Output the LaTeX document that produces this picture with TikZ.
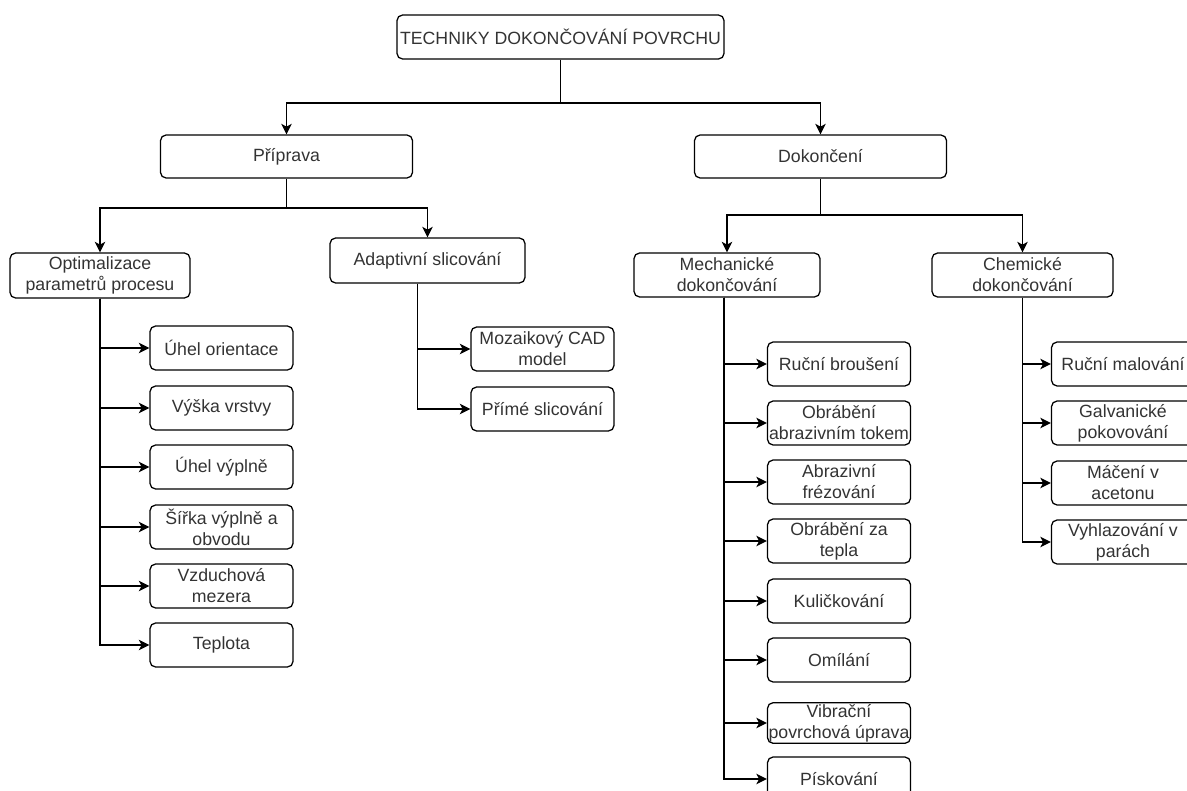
\documentclass[tikz,border=0pt]{standalone}
\usepackage{fontspec}
\setmainfont{Liberation Sans}
\usetikzlibrary{arrows.meta}
\definecolor{txt}{HTML}{333333}
\tikzset{
  box/.style={draw=black, line width=0.9pt, rounded corners=4pt, align=center,
    inner xsep=0pt, inner ysep=1pt, text=txt, font=\fontsize{12.6}{15}\selectfont},
  leaf/.style={box, minimum width=3.575cm, minimum height=1.1cm},
  ln/.style={line width=0.9pt},
  arr/.style={line width=0.9pt, -{Stealth[length=7.5pt, width=7.5pt, inset=2pt]}}
}

\begin{document}
\begin{tikzpicture}[x=0.025cm, y=-0.025cm]
            \useasboundingbox (0,0) rectangle (1187,790);
            \clip (0,0) rectangle (1187,790);

            \node[box, minimum width=8.175cm, minimum height=1.1cm] (R) at (560.5,37) {TECHNIKY DOKONČOVÁNÍ POVRCHU};
            \node[box, minimum width=6.3cm, minimum height=1.075cm] (P) at (286.5,156.5) {Příprava};
            \node[box, minimum width=6.3cm, minimum height=1.075cm] (D) at (820.5,156.5) {Dokončení};

            \node[box, minimum width=4.5cm, minimum height=1.125cm] (O) at (100,275.5) {Optimalizace\\parametrů procesu};
            \node[box, minimum width=4.875cm, minimum height=1.125cm] (A) at (427.5,260.5) {Adaptivní slicování};
            \node[box, minimum width=4.65cm, minimum height=1.1cm] (M) at (727,275) {Mechanické\\dokončování};
            \node[box, minimum width=4.525cm, minimum height=1.1cm] (C) at (1022.5,275) {Chemické\\dokončování};

            \node[leaf] (O1) at (221.5,348) {Úhel orientace};
            \node[leaf] (O2) at (221.5,408) {Výška vrstvy};
            \node[leaf] (O3) at (221.5,467) {Úhel výplně};
            \node[leaf] (O4) at (221.5,527) {Šířka výplně a\\obvodu};
            \node[leaf] (O5) at (221.5,586) {Vzduchová\\mezera};
            \node[leaf] (O6) at (221.5,645) {Teplota};

            \node[leaf] (A1) at (542.5,349) {Mozaikový CAD\\model};
            \node[leaf] (A2) at (542.5,409) {Přímé slicování};

            \node[leaf] (M1) at (839,364) {Ruční broušení};
            \node[leaf] (M2) at (839,423) {Obrábění\\abrazivním tokem};
            \node[leaf] (M3) at (839,482) {Abrazivní\\frézování};
            \node[leaf] (M4) at (839,541) {Obrábění za\\tepla};
            \node[leaf] (M5) at (839,601) {Kuličkování};
            \node[leaf] (M6) at (839,660) {Omílání};
            \node[leaf, minimum height=0.95cm] (M7) at (839,723) {Vibrační\\povrchová úprava};
            \node[leaf] (M8) at (839,779) {Pískování};

            \node[leaf] (C1) at (1123,364) {Ruční malování};
            \node[leaf] (C2) at (1123,423) {Galvanické\\pokovování};
            \node[leaf] (C3) at (1123,483) {Máčení v\\acetonu};
            \node[leaf] (C4) at (1123,542) {Vyhlazování v\\parách};

            \coordinate (j0) at (560.5,103);
            \coordinate (j1) at (286.5,208);
            \coordinate (j2) at (820.5,215);

            \draw[ln] (R) -- (j0);
            \draw[arr] (j0) -| (P);
            \draw[arr] (j0) -| (D);
            \draw[ln] (P) -- (j1);
            \draw[arr] (j1) -| (O);
            \draw[arr] (j1) -| (A);
            \draw[ln] (D) -- (j2);
            \draw[arr] (j2) -| (M);
            \draw[arr] (j2) -| (C);

            \foreach \n in {O1,O2,O3,O4,O5,O6}
                \draw[arr] (O.south) |- (\n.west);
            \foreach \n in {A1,A2}
                \draw[arr] ([xshift=-0.25cm]A.south) |- (\n.west);
            \foreach \n in {M1,M2,M3,M4,M5,M6,M7,M8}
                \draw[arr] ([xshift=-0.075cm]M.south) |- (\n.west);
            \foreach \n in {C1,C2,C3,C4}
                \draw[arr] (C.south) |- (\n.west);
        \end{tikzpicture}
\end{document}
